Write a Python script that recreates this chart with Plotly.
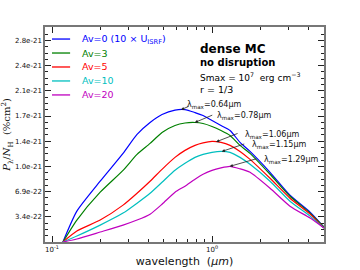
import numpy as np
import plotly.graph_objects as go

# wavelength grid (micron)
wavelength = [0.117, 0.143, 0.200, 0.278, 0.340, 0.410, 0.487, 0.587, 0.678, 0.783, 0.879,
              1.0, 1.138, 1.296, 1.496, 1.728, 2.305, 3.07, 4.10, 5.01]

# P_lambda / N_H in units of 1e-21 %cm^2
av0 = [0, 0.422, 0.831, 1.212, 1.471, 1.634, 1.743, 1.804, 1.811, 1.770, 1.729,
       1.661, 1.593, 1.525, 1.362, 1.239, 0.953, 0.640, 0.409, 0.204]
av3 = [0, 0.300, 0.681, 0.980, 1.198, 1.348, 1.498, 1.593, 1.627, 1.634, 1.620,
       1.580, 1.525, 1.457, 1.321, 1.212, 0.926, 0.626, 0.395, 0.204]
av5 = [0, 0.150, 0.300, 0.504, 0.667, 0.831, 0.994, 1.157, 1.253, 1.321, 1.355,
       1.375, 1.362, 1.321, 1.239, 1.130, 0.871, 0.599, 0.381, 0.191]
av10 = [0, 0.082, 0.231, 0.395, 0.531, 0.667, 0.817, 0.980, 1.076, 1.157, 1.198,
        1.226, 1.239, 1.226, 1.157, 1.062, 0.831, 0.558, 0.354, 0.191]
av20 = [0, 0.041, 0.136, 0.231, 0.300, 0.381, 0.517, 0.681, 0.763, 0.858, 0.926,
        0.980, 1.014, 1.035, 1.001, 0.953, 0.735, 0.490, 0.327, 0.191]

series_names = ["Av=0 (10 × U<sub>ISRF</sub>)", "Av=3", "Av=5", "Av=10", "Av=20"]
colors = ["#0000ff", "#008000", "#ff0000", "#00bfbf", "#bf00bf"]
lam_max = [0.64, 0.78, 1.06, 1.15, 1.29]

ytick_labels = ["3.4e-22", "6.9e-22", "1.0e-21", "1.4e-21", "1.7e-21", "2.1e-21", "2.4e-21", "2.8e-21"]
ystep = 0.3445e-21

fig = go.Figure()
all_series = [av0, av3, av5, av10, av20]
for name, vals, col in zip(series_names, all_series, colors):
    fig.add_trace(go.Scatter(
        x=wavelength, y=[v * 1e-21 for v in vals], mode="lines",
        line=dict(color=col, width=1.2, shape="spline", smoothing=0.6),
        name=name, showlegend=False,
    ))

# manual legend (line sample + coloured label)
legend_y = [0.944, 0.879, 0.814, 0.749, 0.684]
for name, col, ly in zip(series_names, colors, legend_y):
    fig.add_shape(type="line", xref="paper", yref="paper", x0=0.025, x1=0.09, y0=ly, y1=ly,
                  line=dict(color=col, width=1.3))
    fig.add_annotation(x=0.125, y=ly, xref="paper", yref="paper", xanchor="left", yanchor="middle",
                       text=name, showarrow=False, font=dict(size=9.5, color=col))

# arrows pointing to peaks
arrow_offsets = [(9, -4), (19, -8), (23, -9), (24, -8), (28, -8)]
text_pos = [(0.502, 0.637), (0.61, 0.585), (0.71, 0.498), (0.735, 0.451), (0.778, 0.381)]
lam_x = np.log10(wavelength)
for lm, vals, (ax, ay), (tx, ty) in zip(lam_max, all_series, arrow_offsets, text_pos):
    yv = float(np.interp(np.log10(lm), lam_x, vals)) * 1e-21
    fig.add_annotation(x=np.log10(lm), y=yv, xref="x", yref="y", text="",
                       showarrow=True, ax=ax, ay=ay, arrowhead=2, arrowsize=0.8,
                       arrowwidth=0.8, arrowcolor="#222")
    fig.add_annotation(x=tx, y=ty, xref="paper", yref="paper", xanchor="left", yanchor="middle",
                       text="λ<sub>max</sub>=%.2fμm" % lm, showarrow=False,
                       font=dict(size=8, color="#111"))

# info text
info = [("<b>dense MC</b>", 12, 0.896), ("<b>no disruption</b>", 10, 0.835),
        ("Smax = 10<sup>7</sup>  erg cm<sup>−3</sup>", 9, 0.767), ("r = 1/3", 9.5, 0.707)]
for t, s, yy in info:
    fig.add_annotation(x=0.548, y=yy, xref="paper", yref="paper", xanchor="left", yanchor="middle",
                       text=t, showarrow=False, font=dict(size=s, color="#000"))

axis_col = "#777"
fig.update_layout(
    width=360, height=270,
    margin=dict(l=45, r=36, t=27, b=28),
    paper_bgcolor="white", plot_bgcolor="white",
    font=dict(family="DejaVu Sans", size=7, color="#111"),
    showlegend=False,
    xaxis=dict(type="log", range=[np.log10(0.0904), np.log10(5.01)], automargin=False,
               tickvals=[0.1, 1], ticktext=["10<sup>-1</sup>", "10<sup>0</sup>"],
               ticks="inside", ticklen=6, tickcolor="#222", tickwidth=1,
               showline=True, linecolor=axis_col, linewidth=1.5, mirror="allticks",
               showgrid=False, zeroline=False,
               minor=dict(tickvals=[0.2, 0.3, 0.4, 0.5, 0.6, 0.7, 0.8, 0.9, 2, 3, 4, 5],
                          ticks="inside", ticklen=3, tickcolor="#222", showgrid=False),
               title=dict(text="wavelength  (<i>μm</i>)", font=dict(size=11), standoff=4)),
    yaxis=dict(range=[0, 2.94e-21], automargin=False,
               tickvals=[ystep * (i + 1) for i in range(len(ytick_labels))], ticktext=ytick_labels,
               ticks="inside", ticklen=6, tickcolor="#222", tickwidth=1,
               showline=True, linecolor=axis_col, linewidth=1.5, mirror="allticks",
               showgrid=False, zeroline=False,
               minor=dict(dtick=ystep / 4, tick0=0, ticks="inside", ticklen=3,
                          tickcolor="#222", showgrid=False),
               title=dict(text="<i>P</i><sub>λ</sub>/<i>N</i><sub>H</sub>  (%cm<sup>2</sup>)",
                          font=dict(size=10, family="DejaVu Serif"), standoff=2)),
)

fig.write_html("out.html", config={"displayModeBar": False},
               post_script="document.body.style.margin='0';document.body.style.padding='0';")
